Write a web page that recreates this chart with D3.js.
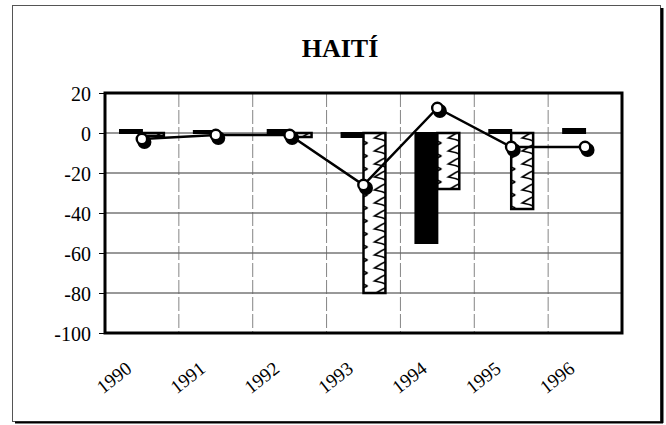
<!DOCTYPE html>
<html lang="es">
<head>
<meta charset="utf-8">
<title>HAITÍ</title>
<script src="https://cdn.jsdelivr.net/npm/d3@7"></script>
<style>
  body { margin: 0; background: #fff; }
  text { font-family: "Liberation Serif", "DejaVu Serif", serif; fill: #000; }
</style>
</head>
<body>
<svg id="chart" width="666" height="425"></svg>
<script>
// valores
var years = ["1990", "1991", "1992", "1993", "1994", "1995", "1996"];
var serieNegra = [1.5, 1, 1.5, -2, -55, 1.5, 2];        // barras negras
var serieRayada = [-1.5, 0, -2, -80, -28, -38, 0];      // barras con trama
var serieLinea = [-3, -1, -1, -26, 12.5, -7, -7];       // linea con circulos
var yTicks = [20, 0, -20, -40, -60, -80, -100];

var svg = d3.select("#chart");
var pLeft = 105, pRight = 622, pTop = 93, pBottom = 333;

var x = d3.scaleBand().domain(years).range([pLeft, pRight]).padding(0);
var xs = d3.scaleBand().domain(["negra", "rayada"]).range([15, x.bandwidth() - 15]);
var y = d3.scaleLinear().domain([-100, 20]).range([pBottom, pTop]);

// trama tipo chevron
var defs = svg.append("defs");
var pat = defs.append("pattern")
    .attr("id", "trama")
    .attr("patternUnits", "userSpaceOnUse")
    .attr("width", 22).attr("height", 13);
pat.append("rect").attr("width", 22).attr("height", 13).attr("fill", "#fff");
pat.append("path")
    .attr("d", "M19,0 Q11,3 4,8 Q12,9 19,13")
    .attr("fill", "none").attr("stroke", "#000").attr("stroke-width", 1.6);

// marco exterior con sombra
svg.append("rect")
    .attr("x", 12.5).attr("y", 5.5).attr("width", 648).attr("height", 416)
    .attr("fill", "#fff").attr("stroke", "#555").attr("stroke-width", 1);
svg.append("line").attr("x1", 662).attr("x2", 662).attr("y1", 8).attr("y2", 423)
    .attr("stroke", "#000").attr("stroke-width", 3);
svg.append("line").attr("x1", 15).attr("x2", 663).attr("y1", 422.5).attr("y2", 422.5)
    .attr("stroke", "#000").attr("stroke-width", 2);

// titulo
svg.append("text")
    .attr("x", 340).attr("y", 57)
    .attr("text-anchor", "middle")
    .attr("font-size", 26).attr("font-weight", "bold")
    .text("HAITÍ");

// rejilla horizontal
svg.append("g").selectAll("line")
    .data(yTicks.filter(function(d) { return d < 20 && d > -100; }))
    .enter().append("line")
    .attr("x1", pLeft).attr("x2", pRight)
    .attr("y1", function(d) { return y(d); })
    .attr("y2", function(d) { return y(d); })
    .attr("stroke", "#333").attr("stroke-width", 1);

// rejilla vertical (limites de categoria)
svg.append("g").selectAll("line")
    .data(years.slice(1))
    .enter().append("line")
    .attr("x1", function(d) { return x(d); })
    .attr("x2", function(d) { return x(d); })
    .attr("y1", pTop).attr("y2", pBottom)
    .attr("stroke", "#666").attr("stroke-width", 0.8)
    .attr("stroke-dasharray", "14,3");

// eje y
var yAxis = d3.axisLeft(y).tickValues(yTicks).tickSize(6).tickPadding(8)
    .tickFormat(function(d) { return String(d); });
var gy = svg.append("g").attr("transform", "translate(" + pLeft + ",0)").call(yAxis);
gy.select(".domain").remove();
gy.selectAll("line").attr("stroke", "#000");
gy.selectAll("text")
    .attr("font-size", 20)
    .attr("font-family", "Liberation Serif, serif")
    .attr("dy", "0.35em");

// barras
var grupos = svg.append("g").selectAll("g")
    .data(years)
    .enter().append("g")
    .attr("transform", function(d) { return "translate(" + x(d) + ",0)"; });

grupos.append("rect")
    .attr("x", xs("negra"))
    .attr("width", xs.bandwidth())
    .attr("y", function(d, i) { return y(Math.max(0, serieNegra[i])); })
    .attr("height", function(d, i) { return Math.abs(y(serieNegra[i]) - y(0)); })
    .attr("fill", "#000").attr("stroke", "#000").attr("stroke-width", 2);

grupos.filter(function(d, i) { return serieRayada[i] !== 0; })
    .append("rect")
    .attr("x", xs("rayada"))
    .attr("width", xs.bandwidth())
    .attr("y", function(d) { return y(Math.max(0, serieRayada[years.indexOf(d)])); })
    .attr("height", function(d) { return Math.abs(y(serieRayada[years.indexOf(d)]) - y(0)); })
    .attr("fill", "url(#trama)").attr("stroke", "#000").attr("stroke-width", 2.5);

// linea
var cx = function(d, i) { return x(years[i]) + x.bandwidth() / 2; };
var line = d3.line().x(cx).y(function(d) { return y(d); });
svg.append("path")
    .datum(serieLinea)
    .attr("d", line)
    .attr("fill", "none").attr("stroke", "#000").attr("stroke-width", 2.5);

var marcas = svg.append("g").selectAll("g")
    .data(serieLinea)
    .enter().append("g")
    .attr("transform", function(d, i) { return "translate(" + cx(d, i) + "," + y(d) + ")"; });
marcas.append("circle").attr("cx", 2.5).attr("cy", 3).attr("r", 7).attr("fill", "#000");
marcas.append("circle").attr("r", 5.2).attr("fill", "#fff")
    .attr("stroke", "#000").attr("stroke-width", 2.4);

// borde del area de trazado
svg.append("rect")
    .attr("x", pLeft).attr("y", pTop)
    .attr("width", pRight - pLeft).attr("height", pBottom - pTop)
    .attr("fill", "none").attr("stroke", "#000").attr("stroke-width", 3);

// etiquetas del eje x, giradas
svg.append("g").selectAll("text")
    .data(years)
    .enter().append("text")
    .attr("text-anchor", "end")
    .attr("font-size", 19)
    .attr("transform", function(d) {
        return "translate(" + (x(d) + x.bandwidth() / 2 - 9) + "," + (pBottom + 38) + ") rotate(-38)";
    })
    .text(function(d) { return d; });
</script>
</body>
</html>
